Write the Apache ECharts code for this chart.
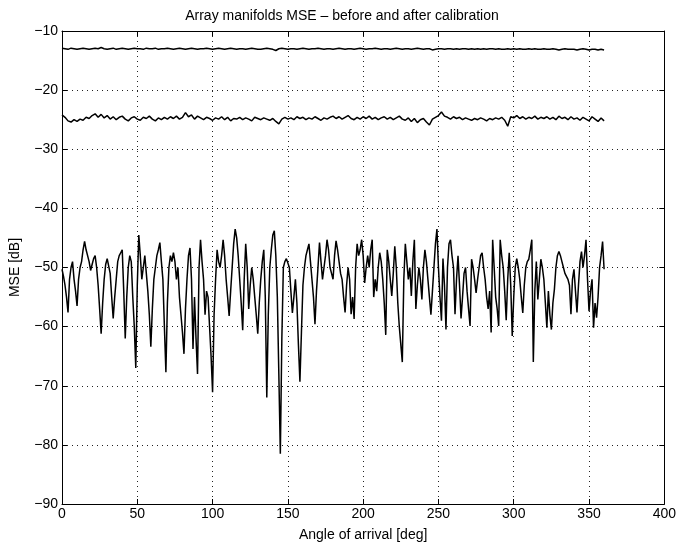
<!DOCTYPE html>
<html>
<head>
<meta charset="utf-8">
<script src="https://cdn.jsdelivr.net/npm/echarts@6/dist/echarts.min.js"></script>
<style>html,body{margin:0;padding:0;background:#fff}#c{width:679px;height:547px}</style>
</head>
<body>
<div id="c"></div>
<script>
var titleText = 'Array manifolds MSE \u2013 before and after calibration';
var xTitle = 'Angle of arrival [deg]';
var yTitle = 'MSE [dB]';
var xMin = 0, xMax = 400, xStep = 50;
var yMin = -90, yMax = -10, yStep = 10;

// Before calibration (upper curve), sampled every 2 deg from 0 to 360
var beforeStepDeg = 2;
var beforeTop = [
-12.9,-13.0,-13.1,-12.9,-13.0,-13.1,-13.0,-12.9,-13.0,-13.1,
-13.0,-12.9,-13.0,-12.8,-13.0,-13.1,-13.0,-12.9,-13.1,-13.0,
-12.9,-13.0,-13.1,-13.0,-12.9,-13.0,-13.0,-13.1,-12.9,-13.0,
-13.0,-12.9,-13.1,-13.0,-13.0,-12.9,-13.0,-13.1,-13.0,-12.9,
-13.0,-13.1,-13.0,-12.9,-13.0,-13.1,-13.0,-13.0,-12.9,-13.0,
-13.1,-13.0,-12.9,-13.0,-13.1,-13.0,-12.9,-13.0,-13.1,-13.0,
-13.0,-13.1,-13.0,-12.9,-13.0,-13.1,-13.1,-13.0,-12.9,-13.0,
-13.1,-13.3,-13.0,-12.9,-13.0,-13.1,-13.0,-13.0,-13.1,-13.0,
-12.9,-13.0,-13.1,-13.0,-13.0,-12.9,-13.0,-13.1,-13.0,-13.0,
-13.1,-13.0,-12.9,-13.0,-13.1,-13.0,-13.0,-13.1,-13.0,-12.9,
-13.0,-13.1,-13.0,-13.0,-12.9,-13.0,-13.1,-13.0,-13.0,-13.1,
-13.0,-12.9,-13.0,-13.1,-13.0,-13.0,-13.1,-13.0,-12.9,-13.0,
-13.1,-13.0,-13.0,-13.2,-13.1,-13.0,-13.0,-13.1,-13.0,-13.0,
-13.1,-13.0,-13.1,-13.0,-13.0,-13.1,-13.0,-13.1,-13.0,-13.1,
-13.0,-13.1,-13.0,-13.0,-13.1,-13.0,-13.1,-13.1,-13.0,-13.1,
-13.0,-13.1,-13.0,-13.1,-13.1,-13.0,-13.1,-13.0,-13.1,-13.1,
-13.0,-13.1,-13.1,-13.0,-13.1,-13.2,-13.1,-13.0,-13.1,-13.1,
-13.1,-13.2,-13.1,-13.0,-13.1,-13.2,-13.1,-13.1,-13.2,-13.1,
-13.2
];

// Middle curve, sampled every 2 deg from 0 to 360
var middleStepDeg = 2;
var middleCurve = [
-24.2,-24.6,-25.2,-25.4,-25.0,-25.3,-24.9,-25.1,-24.6,-24.8,
-24.3,-24.0,-24.6,-24.1,-24.7,-24.3,-24.9,-24.5,-25.0,-24.6,
-24.4,-24.9,-25.2,-24.7,-24.5,-24.9,-25.1,-24.6,-24.8,-24.4,
-24.9,-25.2,-24.7,-25.0,-24.6,-24.9,-24.5,-24.8,-24.4,-24.9,
-24.6,-23.8,-24.5,-24.2,-24.9,-24.4,-24.7,-25.0,-24.6,-24.8,
-25.1,-24.7,-24.9,-24.5,-25.0,-24.6,-25.2,-24.8,-24.9,-24.6,
-25.0,-24.7,-24.9,-25.2,-24.6,-24.8,-25.0,-24.7,-24.9,-25.1,
-24.8,-25.3,-25.7,-24.9,-24.6,-24.9,-24.7,-25.0,-24.5,-24.8,
-24.6,-25.0,-24.7,-24.9,-24.5,-24.8,-25.1,-24.7,-24.9,-24.6,
-24.4,-24.8,-24.5,-24.9,-24.6,-24.3,-24.8,-25.0,-24.6,-24.9,
-24.5,-24.8,-24.4,-24.9,-24.6,-25.0,-24.7,-24.5,-24.9,-24.6,
-25.0,-24.7,-24.4,-24.9,-25.1,-24.7,-25.3,-24.8,-25.5,-25.0,
-24.8,-25.4,-25.9,-24.9,-24.6,-24.3,-23.7,-24.4,-24.6,-24.9,
-24.5,-24.8,-24.6,-25.0,-24.7,-24.9,-25.1,-24.8,-25.0,-24.7,
-24.9,-25.2,-24.8,-25.0,-24.7,-24.9,-24.6,-25.1,-26.1,-24.5,
-24.7,-24.3,-24.8,-24.5,-24.9,-24.6,-24.8,-24.4,-24.9,-24.6,
-24.8,-24.5,-24.9,-24.6,-25.0,-24.4,-24.8,-24.6,-25.0,-24.5,
-24.9,-24.7,-25.1,-24.6,-24.9,-25.2,-24.5,-24.9,-25.3,-24.7,
-25.2
];

// After calibration (noisy curve), every 1 deg from 0 to 360
var afterStepDeg = 1;
var afterCurve = [
-50.3,-51.5,-53,-55,-57.6,-52,-50,-49,-52,-54,
-56.5,-52,-50,-49,-47,-45.6,-47,-48,-49,-50.5,
-49.5,-48.5,-48,-50,-53,-57,-61.2,-56,-52,-49.5,
-48.5,-48.4,-51,-55,-58.6,-55,-52,-49,-48,-47.5,
-47,-54,-62,-55,-50,-48,-49,-55,-60,-67,
-53,-44.5,-48,-52,-50,-48,-51,-54,-58,-63.4,
-57,-52,-50,-48,-47,-45.8,-49,-52,-60,-67.7,
-56,-50,-48,-49,-47.5,-49,-52,-50,-55,-58,
-61,-64.6,-57,-52,-48,-46.7,-52,-63.8,-55,-62,
-68,-50,-45.3,-49,-52,-58,-54,-55,-60,-65,
-71.1,-58,-52,-47,-49,-50,-48,-45.3,-48,-52,
-55,-58.2,-54,-50,-46,-43.5,-45,-48,-52,-56,
-60.6,-52,-46,-50,-57,-53,-50,-52,-55,-58,
-61.2,-56,-52,-49,-47,-55,-72,-58,-50,-47,
-44.5,-43.8,-48,-55,-68,-81.5,-62,-50,-49,-48.5,
-48.3,-50,-54,-57.7,-55,-52,-56,-63,-69.3,-61,
-53,-50,-48,-47,-46,-49,-52,-55,-59.6,-54,
-50,-45.8,-49,-52,-50,-48,-45.3,-47,-50,-51,
-52,-48,-45.5,-47,-49,-51,-52,-55,-57.6,-53,
-50,-52,-57.9,-55,-58.7,-50,-46,-48,-47,-45.3,
-48,-52.6,-50,-48,-50,-47,-45.3,-55,-52,-54,
-50,-47.5,-49,-52,-56,-61.4,-47,-49,-52,-54.8,
-51,-46.4,-50,-56,-60,-63,-66,-52,-46,-49,
-52,-50,-54.8,-49,-45.3,-57,-53,-50,-52,-55.4,
-50,-47,-49,-52,-55,-58,-54,-50,-46,-43.5,
-50,-55,-59,-48.5,-53,-60.5,-50,-46,-45.3,-48,
-50,-57.9,-52,-48,-53,-58.6,-55,-51,-50,-54,
-57,-59.9,-48.6,-50,-52,-54.3,-52,-50,-48,-47.5,
-50,-52,-55,-57,-54,-61,-45.3,-50,-55,-57,
-59.9,-45.3,-48,-50,-54,-58.9,-52,-47.5,-53,-61.6,
-55,-50,-48.5,-50,-52,-55,-57.7,-53,-50,-49,
-48.6,-47,-45.3,-66,-54,-49,-55.4,-52,-48.6,-50,
-52,-56,-60.2,-54,-58,-60.5,-56,-53.7,-50,-48,
-47.3,-48,-49,-50,-51,-51.5,-52,-53,-57.9,-52,
-50.3,-54,-57.6,-53,-49,-47.3,-50,-48,-45.3,-52,
-57.4,-54,-52,-60.2,-56,-58.5,-55,-50,-48,-45.6,
-50.3
];

function toPairs(vals, step) {
  return vals.map(function (v, i) { return [i * step, v]; });
}
function minusFmt(v) { return String(v).replace('-', '\u2212'); }

var chart = echarts.init(document.getElementById('c'), null, {renderer: 'canvas'});
var FONT = 'Liberation Sans, Arial, Helvetica, sans-serif';
var lineStyle = {color: '#000', width: 1.5};
var dotted = {show: true, lineStyle: {color: '#222', width: 1, type: [1, 4]}};

chart.setOption({
  animation: false,
  backgroundColor: '#fff',
  title: {
    text: titleText,
    left: 337, top: 4, textAlign: 'center',
    textStyle: {fontFamily: FONT, fontSize: 14, fontWeight: 'normal', color: '#000'}
  },
  grid: {left: 60, right: 14, top: 31, bottom: 42, containLabel: false},
  xAxis: [{
    type: 'value', min: xMin, max: xMax, interval: xStep, position: 'bottom',
    name: xTitle, nameLocation: 'middle', nameGap: 24,
    nameTextStyle: {fontFamily: FONT, fontSize: 14, color: '#000'},
    axisLine: {show: true, onZero: false, lineStyle: {color: '#000', width: 1}},
    axisTick: {show: true, inside: true, length: 5, lineStyle: {color: '#000'}},
    axisLabel: {fontFamily: FONT, fontSize: 14, color: '#000', margin: 3, formatter: minusFmt},
    splitLine: dotted
  }, {
    type: 'value', min: xMin, max: xMax, interval: xStep, position: 'top',
    axisLine: {show: true, onZero: false, lineStyle: {color: '#000', width: 1}},
    axisTick: {show: true, inside: true, length: 5, lineStyle: {color: '#000'}},
    axisLabel: {show: false}, splitLine: {show: false}
  }],
  yAxis: [{
    type: 'value', min: yMin, max: yMax, interval: yStep, position: 'left',
    name: yTitle, nameLocation: 'middle', nameGap: 40, nameRotate: 90,
    nameTextStyle: {fontFamily: FONT, fontSize: 14, color: '#000'},
    axisLine: {show: true, onZero: false, lineStyle: {color: '#000', width: 1}},
    axisTick: {show: true, inside: true, length: 5, lineStyle: {color: '#000'}},
    axisLabel: {fontFamily: FONT, fontSize: 14, color: '#000', margin: 4, formatter: minusFmt},
    splitLine: dotted
  }, {
    type: 'value', min: yMin, max: yMax, interval: yStep, position: 'right',
    axisLine: {show: true, onZero: false, lineStyle: {color: '#000', width: 1}},
    axisTick: {show: true, inside: true, length: 5, lineStyle: {color: '#000'}},
    axisLabel: {show: false}, splitLine: {show: false}
  }],
  series: [
    {type: 'line', data: toPairs(beforeTop, beforeStepDeg), showSymbol: false, lineStyle: lineStyle, silent: true},
    {type: 'line', data: toPairs(middleCurve, middleStepDeg), showSymbol: false, lineStyle: lineStyle, silent: true},
    {type: 'line', data: toPairs(afterCurve, afterStepDeg), showSymbol: false, lineStyle: lineStyle, silent: true}
  ]
});
</script>
</body>
</html>
